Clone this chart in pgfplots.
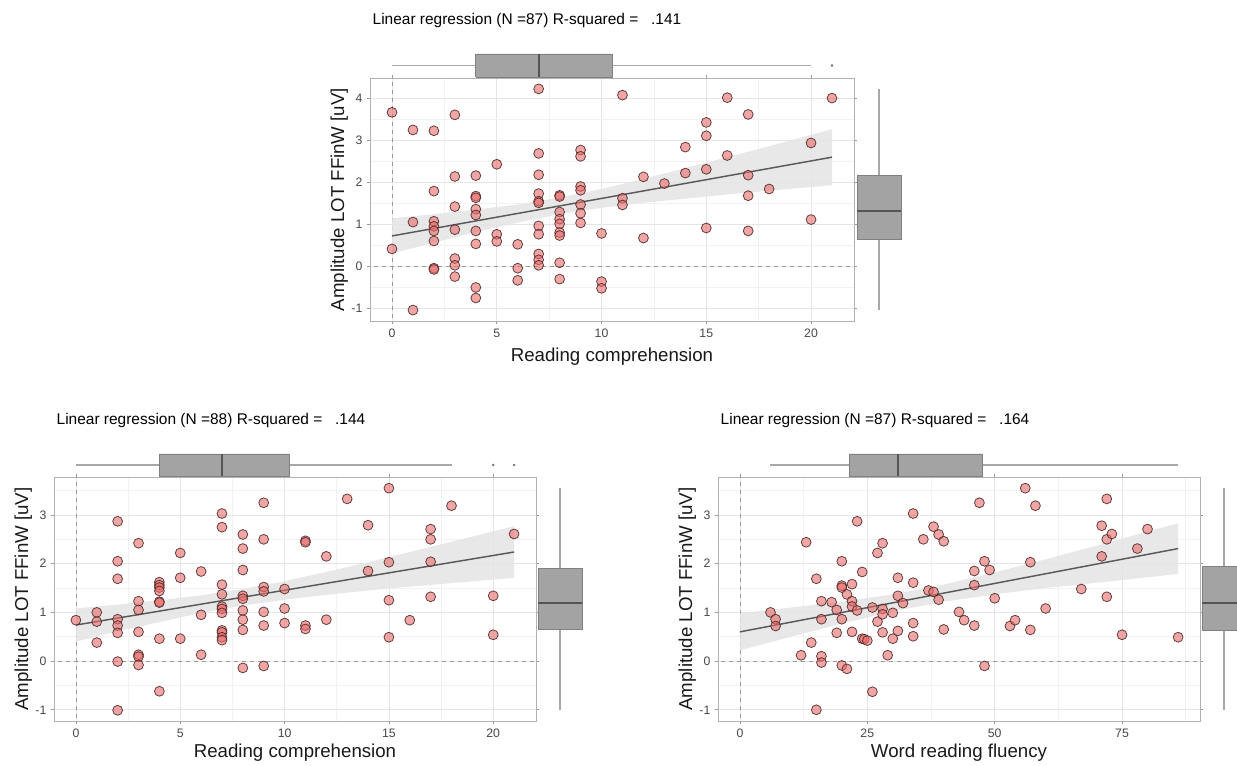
\documentclass[border=0pt]{standalone}
\usepackage{fontspec}
\setmainfont{Liberation Sans}
\usepackage{pgfplots}
\pgfplotsset{compat=1.18}
\definecolor{ptfill}{HTML}{E86B6B}
\definecolor{ptedge}{HTML}{4A2424}
\definecolor{bandgray}{HTML}{E4E4E4}
\definecolor{fitgray}{HTML}{5A5A5A}
\definecolor{boxgray}{HTML}{A3A3A3}
\definecolor{boxedge}{HTML}{808080}
\definecolor{medgray}{HTML}{555555}
\definecolor{whiskgray}{HTML}{A8A8A8}

\pgfplotsset{
  mainax/.style={scale only axis, anchor=south west,
    axis line style={draw=black!30, line width=0.7pt},
    grid=both, major grid style={draw=black!10, line width=0.5pt},
    minor grid style={draw=black!5, line width=0.4pt},
    tick align=outside, major tick length=2.2pt, minor tick length=0pt,
    tick style={draw=black!40, line width=0.5pt},
    tick label style={font=\fontsize{9.2}{11}\selectfont, text=black!72},
    every axis x label/.style={at={(rel axis cs:0.5,0)}, anchor=center, yshift=-24pt,
      font=\fontsize{14}{16}\selectfont, text=black!90},
    every axis y label/.style={at={(rel axis cs:0,0.5)}, anchor=center, xshift=-23pt, rotate=90,
      font=\fontsize{14}{16}\selectfont, text=black!90},
    /pgf/number format/assume math mode=true},
  margax/.style={scale only axis, anchor=south west, hide axis, clip=false},
  pts/.style={only marks, mark=*, mark size=3.7pt,
    mark options={fill=ptfill, fill opacity=0.6, draw=ptedge, draw opacity=0.85, line width=0.6pt}},
  band/.style={fill=bandgray, draw=none, fill opacity=0.85},
  fit/.style={draw=fitgray, line width=1.1pt},
  zero/.style={draw=black!40, dashed, line width=0.5pt},
  whisk/.style={draw=whiskgray, line width=1pt},
  boxf/.style={fill=boxgray, draw=boxedge, line width=0.5pt},
  med/.style={draw=medgray, line width=1.6pt},
  outl/.style={only marks, mark=*, mark size=0.7pt, color=black!55},
}

\begin{document}
\begin{tikzpicture}
\useasboundingbox (0,0) rectangle (927.75pt,574.5pt);

% ---------------- top panel ----------------
\node[anchor=west, font=\fontsize{11.6}{14}\selectfont] at (276pt,558.75pt) {Linear regression (N =87) R-squared =\ \ \ .141};

\begin{axis}[mainax, at={(277.5pt,333.75pt)}, width=363pt, height=182.25pt,
  xmin=-1.05, xmax=22.05, ymin=-1.31, ymax=4.49,
  xtick={0,5,10,15,20}, minor xtick={2.5,7.5,12.5,17.5},
  ytick={-1,0,1,2,3,4}, minor ytick={-0.5,0.5,1.5,2.5,3.5},
  xlabel={Reading comprehension}, ylabel={Amplitude LOT FFinW [uV]},
  every axis x label/.append style={yshift=-3pt}]
\addplot[zero] coordinates {(0,-2) (0,5)};
\addplot[zero] coordinates {(-2,0) (23,0)};
\addplot[band] coordinates {(0,1.14) (2,1.24) (4,1.35) (6,1.47) (8,1.64) (10,1.84) (12,2.08) (14,2.34) (16,2.60) (18,2.86) (21,3.27)
  (21,1.93) (18,1.80) (16,1.71) (14,1.61) (12,1.51) (10,1.39) (8,1.24) (6,1.04) (4,0.81) (2,0.56) (0,0.30)} -- cycle;
\addplot[fit] coordinates {(0,0.72) (21,2.60)};
\addplot[pts] coordinates {
(0,3.67) (0,0.41)
(1,3.25) (1,1.05) (1,-1.05)
(2,3.23) (2,1.79) (2,1.07) (2,0.95) (2,0.84) (2,0.60) (2,-0.05) (2,-0.08)
(3,3.61) (3,2.14) (3,1.42) (3,0.87) (3,0.18) (3,0.02) (3,-0.25)
(4,2.16) (4,1.67) (4,1.63) (4,1.36) (4,1.22) (4,0.84) (4,0.53) (4,-0.51) (4,-0.76)
(5,2.43) (5,0.76) (5,0.59)
(6,0.52) (6,-0.05) (6,-0.34)
(7,4.23) (7,2.69) (7,2.18) (7,1.73) (7,1.55) (7,1.51) (7,0.96) (7,0.76) (7,0.29) (7,0.15) (7,0.02)
(8,1.69) (8,1.66) (8,1.29) (8,1.12) (8,1.01) (8,0.80) (8,0.73) (8,0.08) (8,-0.31)
(9,2.77) (9,2.62) (9,1.90) (9,1.81) (9,1.47) (9,1.26) (9,1.03)
(10,0.78) (10,-0.37) (10,-0.53)
(11,4.08) (11,1.62) (11,1.46)
(12,2.13) (12,0.67)
(13,1.97)
(14,2.84) (14,2.22)
(15,3.43) (15,3.11) (15,2.31) (15,0.91)
(16,4.02) (16,2.64)
(17,3.62) (17,2.17) (17,1.68) (17,0.84)
(18,1.84)
(20,2.94) (20,1.11)
(21,4.01)};
\end{axis}

\begin{axis}[margax, at={(277.5pt,516.75pt)}, width=363pt, height=17.25pt,
  xmin=-1.05, xmax=22.05, ymin=0, ymax=1]
\addplot[whisk] coordinates {(0,0.5) (4,0.5)};
\addplot[whisk] coordinates {(10.5,0.5) (20,0.5)};
\addplot[boxf] coordinates {(4,0) (10.5,0) (10.5,1) (4,1) (4,0)};
\addplot[med] coordinates {(7,0) (7,1)};
\addplot[outl] coordinates {(21,0.5)};
\end{axis}

\begin{axis}[margax, at={(642.75pt,333.75pt)}, width=33pt, height=182.25pt,
  xmin=0, xmax=1, ymin=-1.31, ymax=4.49]
\addplot[whisk] coordinates {(0.5,-1.05) (0.5,0.64)};
\addplot[whisk] coordinates {(0.5,2.17) (0.5,4.23)};
\addplot[boxf] coordinates {(0,0.64) (1,0.64) (1,2.17) (0,2.17) (0,0.64)};
\addplot[med] coordinates {(0,1.31) (1,1.31)};
\end{axis}

% ---------------- bottom left panel ----------------
\node[anchor=west, font=\fontsize{11.6}{14}\selectfont] at (39pt,258.75pt) {Linear regression (N =88) R-squared =\ \ \ .144};

\begin{axis}[mainax, at={(40.5pt,33.75pt)}, width=361.5pt, height=183pt,
  xmin=-1.05, xmax=22.05, ymin=-1.23, ymax=3.78,
  xtick={0,5,10,15,20}, minor xtick={2.5,7.5,12.5,17.5},
  ytick={-1,0,1,2,3}, minor ytick={-0.5,0.5,1.5,2.5,3.5},
  xlabel={Reading comprehension}, ylabel={Amplitude LOT FFinW [uV]}]
\addplot[zero] coordinates {(0,-2) (0,5)};
\addplot[zero] coordinates {(-2,0) (23,0)};
\addplot[band] coordinates {(0,1.08) (2,1.16) (4,1.25) (6,1.35) (8,1.48) (10,1.64) (12,1.83) (14,2.03) (16,2.24) (18,2.45) (21,2.77)
  (21,1.71) (18,1.60) (16,1.53) (14,1.45) (12,1.36) (10,1.26) (8,1.14) (6,0.99) (4,0.80) (2,0.61) (0,0.40)} -- cycle;
\addplot[fit] coordinates {(0,0.74) (21,2.24)};
\addplot[pts] coordinates {
(0,0.84)
(1,1.00) (1,0.81) (1,0.38)
(2,2.87) (2,2.05) (2,1.69) (2,0.86) (2,0.73) (2,0.58) (2,-0.01) (2,-1.01)
(3,2.42) (3,1.23) (3,1.05) (3,0.60) (3,0.13) (3,0.09) (3,-0.08)
(4,1.62) (4,1.56) (4,1.51) (4,1.44) (4,1.22) (4,1.20) (4,0.46) (4,-0.62)
(5,2.22) (5,1.71) (5,0.46)
(6,1.84) (6,0.95) (6,0.13)
(7,3.03) (7,2.75) (7,1.57) (7,1.37) (7,1.12) (7,1.07) (7,0.99) (7,0.63) (7,0.59) (7,0.49) (7,0.43)
(8,2.60) (8,2.31) (8,1.87) (8,1.34) (8,1.28) (8,1.04) (8,0.85) (8,0.64) (8,-0.14)
(9,3.25) (9,2.50) (9,1.52) (9,1.43) (9,1.01) (9,0.73) (9,-0.10)
(10,1.48) (10,1.08) (10,0.78)
(11,2.47) (11,2.44) (11,0.73) (11,0.66)
(12,2.15) (12,0.85)
(13,3.33)
(14,2.79) (14,1.85)
(15,3.55) (15,2.03) (15,1.25) (15,0.49)
(16,0.84)
(17,2.71) (17,2.50) (17,2.04) (17,1.32)
(18,3.19)
(20,1.34) (20,0.54)
(21,2.61)};
\end{axis}

\begin{axis}[margax, at={(40.5pt,217.5pt)}, width=361.5pt, height=16.5pt,
  xmin=-1.05, xmax=22.05, ymin=0, ymax=1]
\addplot[whisk] coordinates {(0,0.5) (4,0.5)};
\addplot[whisk] coordinates {(10.25,0.5) (18,0.5)};
\addplot[boxf] coordinates {(4,0) (10.25,0) (10.25,1) (4,1) (4,0)};
\addplot[med] coordinates {(7,0) (7,1)};
\addplot[outl] coordinates {(20,0.5) (21,0.5)};
\end{axis}

\begin{axis}[margax, at={(403.5pt,33.75pt)}, width=33pt, height=183pt,
  xmin=0, xmax=1, ymin=-1.23, ymax=3.78]
\addplot[whisk] coordinates {(0.5,-1.01) (0.5,0.65)};
\addplot[whisk] coordinates {(0.5,1.91) (0.5,3.55)};
\addplot[boxf] coordinates {(0,0.65) (1,0.65) (1,1.91) (0,1.91) (0,0.65)};
\addplot[med] coordinates {(0,1.20) (1,1.20)};
\end{axis}

% ---------------- bottom right panel ----------------
\node[anchor=west, font=\fontsize{11.6}{14}\selectfont] at (537pt,258.75pt) {Linear regression (N =87) R-squared =\ \ \ .164};

\begin{axis}[mainax, at={(538.5pt,33.75pt)}, width=361.5pt, height=183pt,
  xmin=-4.3, xmax=90.3, ymin=-1.23, ymax=3.78,
  xtick={0,25,50,75}, minor xtick={12.5,37.5,62.5,87.5},
  ytick={-1,0,1,2,3}, minor ytick={-0.5,0.5,1.5,2.5,3.5},
  xlabel={Word reading fluency}, ylabel={Amplitude LOT FFinW [uV]}]
\addplot[zero] coordinates {(0,-2) (0,5)};
\addplot[zero] coordinates {(-10,0) (100,0)};
\addplot[band] coordinates {(0,0.98) (10,1.10) (20,1.22) (30,1.37) (40,1.57) (50,1.82) (60,2.09) (70,2.37) (80,2.66) (86,2.83)
  (86,1.79) (80,1.72) (70,1.61) (60,1.50) (50,1.37) (40,1.22) (30,1.02) (20,0.77) (10,0.50) (0,0.22)} -- cycle;
\addplot[fit] coordinates {(0,0.60) (86,2.31)};
\addplot[pts] coordinates {
(6,1.00) (7,0.86) (7,0.72) (12,0.12) (13,2.44) (14,0.38) (15,1.69) (15,-1.00)
(16,1.23) (16,0.86) (16,0.10) (16,-0.03) (18,1.21) (19,1.05) (19,0.58)
(20,2.05) (20,1.55) (20,1.51) (20,0.86) (20,-0.09) (21,1.37) (21,-0.16)
(22,1.58) (22,1.23) (22,1.12) (22,0.60) (23,2.87) (23,1.04) (24,1.83) (24,0.46)
(24.4,0.45) (25,0.42) (26,1.10) (26,-0.63) (27,2.22) (27,0.81)
(28,2.42) (28,1.07) (28,0.96) (28,0.59) (29,0.12) (30,0.99) (30,0.46)
(31,1.71) (31,1.34) (31,0.62) (32,1.19) (34,3.03) (34,1.61) (34,0.78) (34,0.51)
(36,2.50) (37,1.45) (38,2.76) (38,1.42) (39,2.60) (39,1.26) (40,2.46) (40,0.65)
(43,1.01) (44,0.84) (46,1.85) (46,1.56) (46,0.73) (47,3.25) (48,2.05) (48,-0.10)
(49,1.87) (50,1.29) (53,0.72) (54,0.84) (56,3.55) (57,2.03) (57,0.64) (58,3.19)
(60,1.08) (67,1.48) (71,2.78) (71,2.15) (72,3.33) (72,2.50) (72,1.32) (73,2.61)
(75,0.54) (78,2.31) (80,2.71) (86,0.49)};
\end{axis}

\begin{axis}[margax, at={(538.5pt,217.5pt)}, width=361.5pt, height=16.5pt,
  xmin=-4.3, xmax=90.3, ymin=0, ymax=1]
\addplot[whisk] coordinates {(6,0.5) (21.5,0.5)};
\addplot[whisk] coordinates {(47.5,0.5) (86,0.5)};
\addplot[boxf] coordinates {(21.5,0) (47.5,0) (47.5,1) (21.5,1) (21.5,0)};
\addplot[med] coordinates {(31,0) (31,1)};
\end{axis}

\begin{axis}[margax, at={(901.5pt,33.75pt)}, width=33pt, height=183pt,
  xmin=0, xmax=1, ymin=-1.23, ymax=3.78]
\addplot[whisk] coordinates {(0.5,-1.00) (0.5,0.63)};
\addplot[whisk] coordinates {(0.5,1.95) (0.5,3.55)};
\addplot[boxf] coordinates {(0,0.63) (1,0.63) (1,1.95) (0,1.95) (0,0.63)};
\addplot[med] coordinates {(0,1.19) (1,1.19)};
\end{axis}
\end{tikzpicture}
\end{document}
